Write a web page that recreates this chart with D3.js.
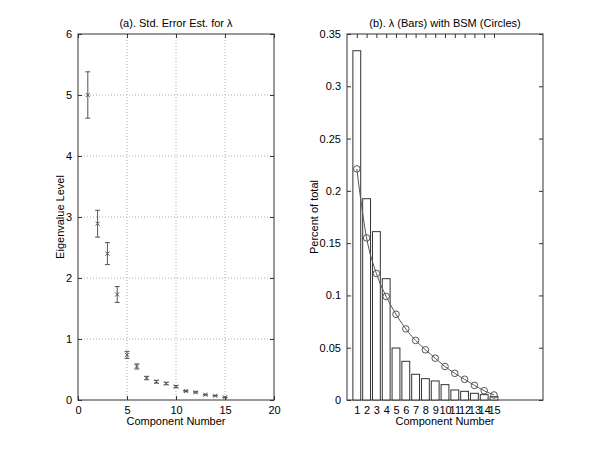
<!DOCTYPE html>
<html><head><meta charset="utf-8">
<script src="https://cdn.jsdelivr.net/npm/d3@7"></script>
<style>
body{margin:0;background:#fff;}
text{font-family:"Liberation Sans",Arial,sans-serif;font-size:11px;fill:#000;}
</style></head>
<body>
<svg id="c" width="600" height="450"></svg>
<script>
// Data
const components = [1,2,3,4,5,6,7,8,9,10,11,12,13,14,15];
const eigenvalues = [5.00,2.89,2.40,1.73,0.74,0.55,0.36,0.30,0.27,0.22,0.147,0.126,0.087,0.070,0.044];
const stdErrors = [0.38,0.22,0.18,0.13,0.057,0.042,0.028,0.023,0.02,0.017,0.011,0.01,0.007,0.005,0.003];
const percentTotal = [0.334,0.1925,0.161,0.116,0.0497,0.037,0.0246,0.0204,0.0182,0.0147,0.0096,0.0083,0.0064,0.0051,0.0032];
const bsm = [0.221,0.155,0.121,0.099,0.082,0.068,0.057,0.048,0.040,0.032,0.0255,0.0198,0.014,0.0089,0.0048];
const leftXTicks = [0,5,10,15,20];
const leftYTicks = [0,1,2,3,4,5,6];
const rightYTicks = [0,0.05,0.1,0.15,0.2,0.25,0.3,0.35];

const svg = d3.select("#c");
const axisColor = "#333";
const dataColor = "#555";
const pTop = 34, pBottom = 400;

// ---------- Panel (a) ----------
const ax = {l:78, r:274};
const xa = d3.scaleLinear().domain([0,20]).range([ax.l, ax.r]);
const ya = d3.scaleLinear().domain([0,6]).range([pBottom, pTop]);
const ga = svg.append("g");

// grid
ga.selectAll(".gx").data(leftXTicks.slice(1,-1)).join("line")
  .attr("x1",d=>xa(d)).attr("x2",d=>xa(d)).attr("y1",pTop).attr("y2",pBottom)
  .attr("stroke","#999").attr("stroke-dasharray","1,2").attr("stroke-width",0.8);
ga.selectAll(".gy").data(leftYTicks.slice(1,-1)).join("line")
  .attr("y1",d=>ya(d)).attr("y2",d=>ya(d)).attr("x1",ax.l).attr("x2",ax.r)
  .attr("stroke","#999").attr("stroke-dasharray","1,2").attr("stroke-width",0.8);

function boxAxes(g, xs, ys, xt, yt, xfmt, yfmt, l, r, tickLen) {
  g.append("g").attr("transform",`translate(0,${pBottom})`)
    .call(d3.axisBottom(xs).tickValues(xt).tickSize(-tickLen).tickPadding(6).tickFormat(xfmt))
    .call(s=>{s.select(".domain").remove();});
  g.append("g").attr("transform",`translate(0,${pTop})`)
    .call(d3.axisTop(xs).tickValues(xt).tickSize(-tickLen).tickFormat(""))
    .call(s=>{s.select(".domain").remove();});
  g.append("g").attr("transform",`translate(${l},0)`)
    .call(d3.axisLeft(ys).tickValues(yt).tickSize(-tickLen).tickPadding(6).tickFormat(yfmt))
    .call(s=>{s.select(".domain").remove();});
  g.append("g").attr("transform",`translate(${r},0)`)
    .call(d3.axisRight(ys).tickValues(yt).tickSize(-tickLen).tickFormat(""))
    .call(s=>{s.select(".domain").remove();});
  g.selectAll(".tick line").attr("stroke",axisColor);
  g.selectAll(".tick text").attr("fill","#000").style("font-size","11px").style("font-family","Liberation Sans, Arial, sans-serif");
  g.append("rect").attr("x",l).attr("y",pTop).attr("width",r-l).attr("height",pBottom-pTop)
    .attr("fill","none").attr("stroke",axisColor).attr("stroke-width",1);
}
boxAxes(ga, xa, ya, leftXTicks, leftYTicks, d3.format("d"), d3.format("d"), ax.l, ax.r, 4);

// error bars
const eb = ga.append("g").attr("stroke",dataColor).attr("stroke-width",1);
components.forEach((c,i)=>{
  const x = xa(c), y1 = ya(eigenvalues[i]+stdErrors[i]), y2 = ya(eigenvalues[i]-stdErrors[i]);
  eb.append("line").attr("x1",x).attr("x2",x).attr("y1",y1).attr("y2",y2);
  eb.append("line").attr("x1",x-2.5).attr("x2",x+2.5).attr("y1",y1).attr("y2",y1);
  eb.append("line").attr("x1",x-2.5).attr("x2",x+2.5).attr("y1",y2).attr("y2",y2);
  const yc = ya(eigenvalues[i]), s=2;
  eb.append("line").attr("x1",x-s).attr("x2",x+s).attr("y1",yc-s).attr("y2",yc+s);
  eb.append("line").attr("x1",x-s).attr("x2",x+s).attr("y1",yc+s).attr("y2",yc-s);
});

svg.append("text").attr("x",(ax.l+ax.r)/2).attr("y",27).attr("text-anchor","middle")
  .text("(a).  Std. Error Est. for λ");
svg.append("text").attr("x",(ax.l+ax.r)/2).attr("y",425).attr("text-anchor","middle").text("Component Number");
svg.append("text").attr("transform",`translate(64,${(pTop+pBottom)/2}) rotate(-90)`).attr("text-anchor","middle").text("Eigenvalue Level");

// ---------- Panel (b) ----------
const bx = {l:347, r:543};
const xb = d3.scaleLinear().domain([0,20]).range([bx.l, bx.r]);
const yb = d3.scaleLinear().domain([0,0.35]).range([pBottom, pTop]);
const gb = svg.append("g");
boxAxes(gb, xb, yb, components, rightYTicks, d3.format("d"), d=>d===0?"0":String(d), bx.l, bx.r, 4);

const bw = xb(0.8)-xb(0);
gb.append("g").selectAll("rect").data(components).join("rect")
  .attr("x",(d)=>xb(d)-bw/2).attr("width",bw)
  .attr("y",(d,i)=>yb(percentTotal[i])).attr("height",(d,i)=>yb(0)-yb(percentTotal[i]))
  .attr("fill","#fff").attr("stroke",axisColor).attr("stroke-width",1);

const pts = components.map((c,i)=>[xb(c), yb(bsm[i])]);
gb.append("path").attr("d", d3.line().curve(d3.curveMonotoneX)(pts))
  .attr("fill","none").attr("stroke",dataColor).attr("stroke-width",1);
gb.append("g").selectAll("circle").data(pts).join("circle")
  .attr("cx",d=>d[0]).attr("cy",d=>d[1]).attr("r",3.3)
  .attr("fill","none").attr("stroke",dataColor).attr("stroke-width",1);

svg.append("text").attr("x",(bx.l+bx.r)/2).attr("y",27).attr("text-anchor","middle")
  .text("(b).  λ (Bars) with BSM (Circles)");
svg.append("text").attr("x",(bx.l+bx.r)/2).attr("y",425).attr("text-anchor","middle").text("Component Number");
svg.append("text").attr("transform",`translate(318,${(pTop+pBottom)/2}) rotate(-90)`).attr("text-anchor","middle").text("Percent of total");
</script>
</body></html>
